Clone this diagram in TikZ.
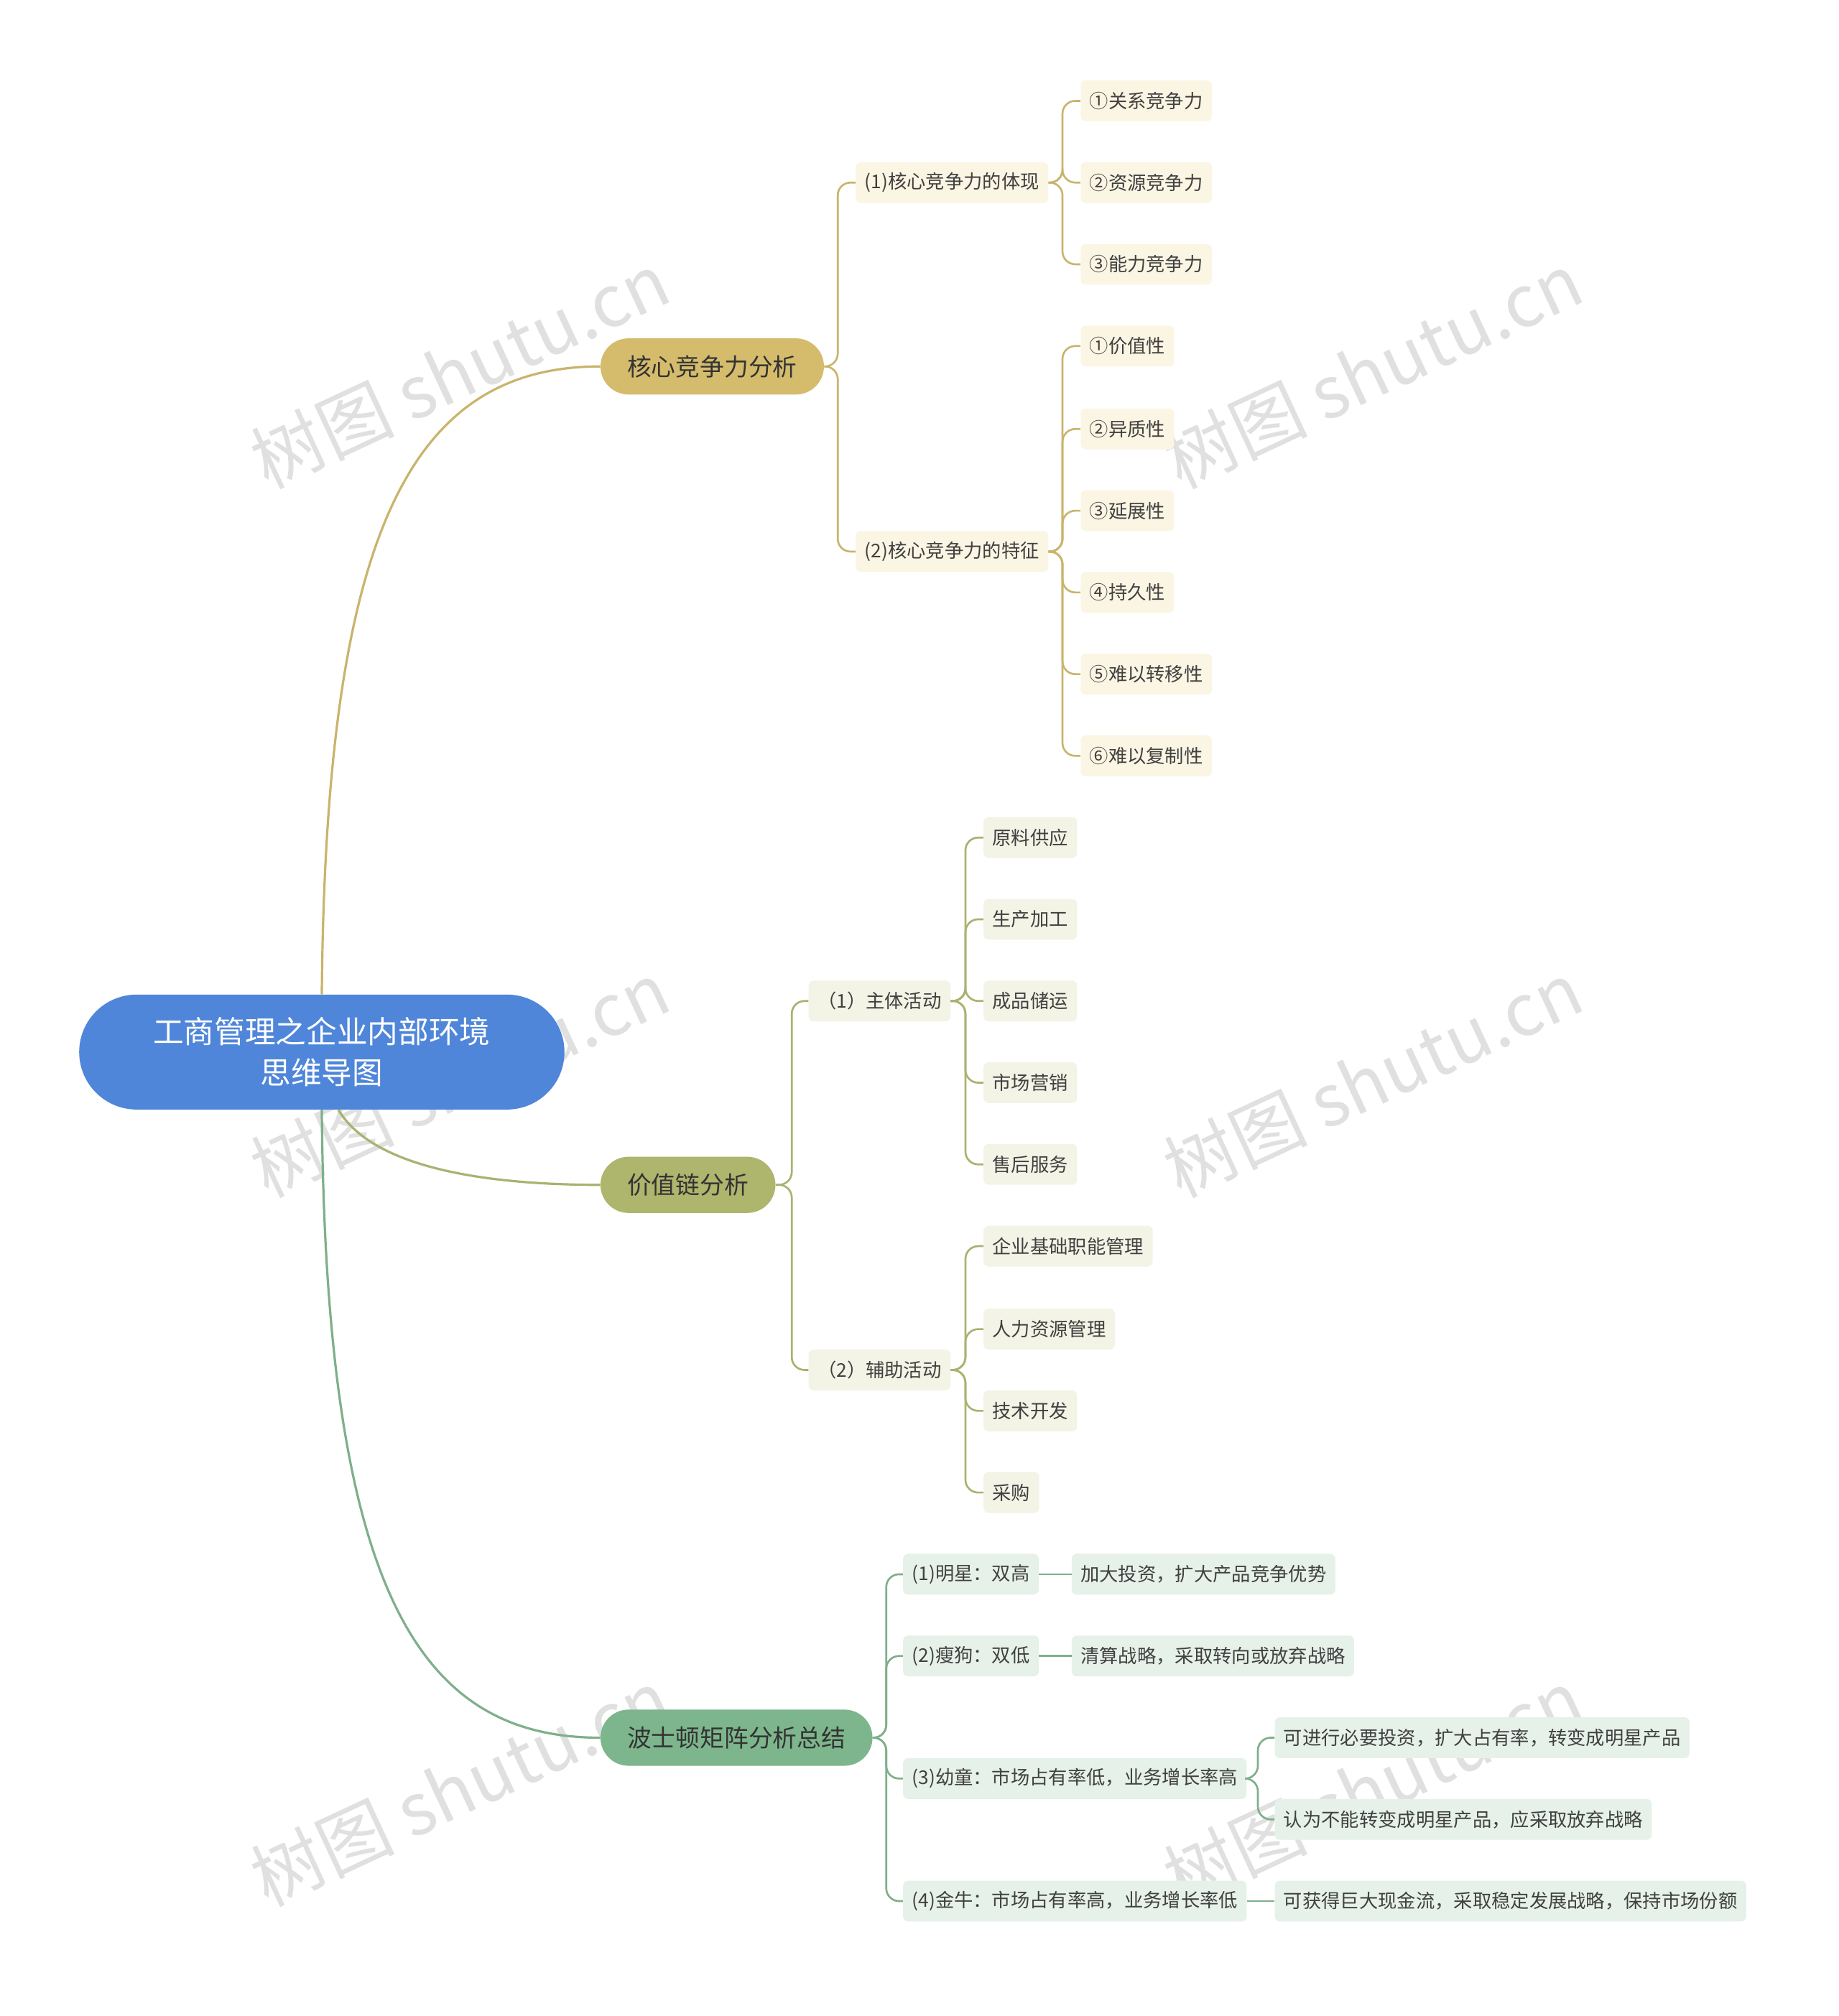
\documentclass[tikz,border=0pt]{standalone}
\usepackage{fontspec}
\setmainfont{Noto Sans CJK SC}
\definecolor{gold}{HTML}{D5BC6C}
\definecolor{goldl}{HTML}{C9B46C}
\definecolor{goldf}{HTML}{FBF5E3}
\definecolor{olive}{HTML}{AEB56C}
\definecolor{olivel}{HTML}{ABB170}
\definecolor{olivef}{HTML}{F3F3E6}
\definecolor{grn}{HTML}{7DB68C}
\definecolor{grnl}{HTML}{7FAF8B}
\definecolor{grnf}{HTML}{E6F1E9}
\definecolor{rootc}{HTML}{4F86DA}
\begin{document}
\begin{tikzpicture}[x=1pt,y=-1pt,
 leaf/.style={anchor=west,rounded corners=4pt,inner xsep=7pt,minimum height=32pt,font=\fontsize{14.8}{16}\selectfont,text=black!75},
 lg/.style={leaf,fill=goldf},lo/.style={leaf,fill=olivef},lgr/.style={leaf,fill=grnf},
 br/.style={anchor=west,rounded corners=22pt,minimum height=44pt,inner xsep=21pt,font=\fontsize{19}{21}\selectfont,text=black!80},
 cg/.style={draw=goldl,line width=1.5pt,rounded corners=10pt},
 co/.style={draw=olivel,line width=1.5pt,rounded corners=10pt},
 cgr/.style={draw=grnl,line width=1.5pt,rounded corners=10pt},
 wm/.style={rotate=25,text=black!12,font=\fontsize{56}{60}\selectfont}]
\useasboundingbox (0,0) rectangle (1440,1579);
\fill[white] (0,0) rectangle (1440,1579);
\foreach \x/\y [count=\i] in {360/290,1075/290,360/845,1075/845,360/1400,1075/1400}
 \node[wm] (w\i) at (\x,\y) {树图 shutu.cn};
% root
\node[fill=rootc,rounded corners=45pt,minimum width=380pt,minimum height=90pt,text=white,align=center,font=\fontsize{24}{32}\selectfont] (root) at (252,824) {工商管理之企业内部环境\\思维导图};
% branches
\node[br,fill=gold] (b1) at (470,287) {核心竞争力分析};
\node[br,fill=olive] (b2) at (470,928) {价值链分析};
\node[br,fill=grn] (b3) at (470,1361) {波士顿矩阵分析总结};
\draw[goldl,line width=1.8pt] (root.north) .. controls (255,420) and (320,287) .. (b1.west);
\draw[olivel,line width=1.8pt] ([xshift=13pt]root.south) .. controls (295,920) and (400,928) .. (b2.west);
\draw[grnl,line width=1.8pt] (root.south) .. controls (255,1250) and (330,1361) .. (b3.west);
% branch 1
\node[lg] (a1) at (670,143) {(1)核心竞争力的体现};
\node[lg] (a2) at (670,432) {(2)核心竞争力的特征};
\foreach \n in {a1,a2} \draw[cg] (b1.east) -- (656,287) |- (\n.west);
\foreach \t/\y [count=\i] in {①关系竞争力/79,②资源竞争力/143,③能力竞争力/207}{
 \node[lg] (a1\i) at (846,\y) {\t};
 \draw[cg] (a1.east) -- (832,143) |- (a1\i.west);}
\foreach \t/\y [count=\i] in {①价值性/271,②异质性/336,③延展性/400,④持久性/464,⑤难以转移性/528,⑥难以复制性/592}{
 \node[lg] (a2\i) at (846,\y) {\t};
 \draw[cg] (a2.east) -- (832,432) |- (a2\i.west);}
% branch 2
\node[lo] (c1) at (633,784) {（1）主体活动};
\node[lo] (c2) at (633,1073) {（2）辅助活动};
\foreach \n in {c1,c2} \draw[co] (b2.east) -- (620,928) |- (\n.west);
\foreach \t/\y [count=\i] in {原料供应/656,生产加工/720,成品储运/784,市场营销/848,售后服务/912}{
 \node[lo] (c1\i) at (770,\y) {\t};
 \draw[co] (c1.east) -- (756,784) |- (c1\i.west);}
\foreach \t/\y [count=\i] in {企业基础职能管理/976,人力资源管理/1041,技术开发/1105,采购/1169}{
 \node[lo] (c2\i) at (770,\y) {\t};
 \draw[co] (c2.east) -- (756,1073) |- (c2\i.west);}
% branch 3
\node[lgr] (d1) at (707,1233) {(1)明星：双高};
\node[lgr] (d2) at (707,1297) {(2)瘦狗：双低};
\node[lgr] (d3) at (707,1393) {(3)幼童：市场占有率低，业务增长率高};
\node[lgr] (d4) at (707,1489) {(4)金牛：市场占有率高，业务增长率低};
\foreach \n in {d1,d2,d3,d4} \draw[cgr] (b3.east) -- (694,1361) |- (\n.west);
\node[lgr] (d11) at (839,1233) {加大投资，扩大产品竞争优势};
\node[lgr] (d21) at (839,1297) {清算战略，采取转向或放弃战略};
\node[lgr] (d31) at (998,1361) {可进行必要投资，扩大占有率，转变成明星产品};
\node[lgr] (d32) at (998,1425) {认为不能转变成明星产品，应采取放弃战略};
\node[lgr] (d41) at (998,1489) {可获得巨大现金流，采取稳定发展战略，保持市场份额};
\draw[cgr] (d1.east) -- (d11.west);
\draw[cgr] (d2.east) -- (d21.west);
\draw[cgr] (d4.east) -- (d41.west);
\foreach \n in {d31,d32} \draw[cgr] (d3.east) -- (985,1393) |- (\n.west);
\end{tikzpicture}
\end{document}
